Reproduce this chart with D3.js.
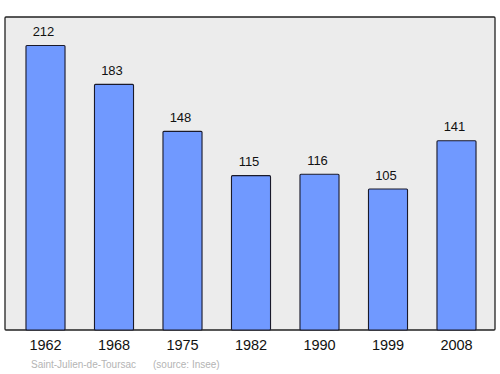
<!DOCTYPE html>
<html>
<head>
<meta charset="utf-8">
<script src="https://cdn.jsdelivr.net/npm/d3@7"></script>
<style>
  body { margin: 0; background: #fff; }
  text { font-family: "Liberation Sans", Arial, sans-serif; }
</style>
</head>
<body>
<div id="chart"></div>
<script>
// population data
var years = ["1962", "1968", "1975", "1982", "1990", "1999", "2008"];
var population = [212, 183, 148, 115, 116, 105, 141];
var townName = "Saint-Julien-de-Toursac";
var sourceNote = "(source: Insee)";

var width = 500, height = 374;
var frame = {left: 5, top: 17, right: 495, bottom: 330};

var svg = d3.select("#chart").append("svg")
	.attr("width", width)
	.attr("height", height);

// plot background
svg.append("rect")
	.attr("x", frame.left)
	.attr("y", frame.top)
	.attr("width", frame.right - frame.left)
	.attr("height", frame.bottom - frame.top)
	.attr("fill", "#ececec")
	.attr("stroke", "#222")
	.attr("stroke-width", 1.3)
	.attr("rx", 1);

var x = d3.scaleBand()
	.domain(years)
	.range([11.25, 490.75])
	.paddingInner(0.43)
	.paddingOuter(0.215);

var y = d3.scaleLinear()
	.domain([0, d3.max(population) * 1.1])
	.range([frame.bottom, frame.top]);

var data = years.map(function(d, i) { return {year: d, value: population[i]}; });

svg.append("g")
	.selectAll("rect")
	.data(data)
	.enter().append("rect")
	.attr("x", function(d) { return x(d.year); })
	.attr("y", function(d) { return y(d.value); })
	.attr("width", x.bandwidth())
	.attr("height", function(d) { return frame.bottom - y(d.value); })
	.attr("fill", "#7099ff")
	.attr("stroke", "#1a1a2a")
	.attr("stroke-width", 1.1)
	.attr("rx", 1);

// value labels, sitting a little left of the bar centre as in the original
svg.append("g")
	.selectAll("text")
	.data(data)
	.enter().append("text")
	.attr("x", function(d) { return x(d.year) + x.bandwidth() / 2 - 2; })
	.attr("y", function(d) { return y(d.value) - 9.5; })
	.attr("text-anchor", "middle")
	.style("font-size", "13px")
	.style("fill", "#111")
	.text(function(d) { return d.value; });

// year axis
var xAxis = svg.append("g")
	.attr("transform", "translate(0," + frame.bottom + ")")
	.call(d3.axisBottom(x).tickSize(0).tickPadding(10));
xAxis.select(".domain").remove();
xAxis.selectAll("text")
	.attr("dy", "0.71em")
	.style("font-size", "14.5px")
	.style("font-family", "'Liberation Sans', Arial, sans-serif")
	.style("fill", "#111");

// footer
svg.append("text")
	.attr("x", 31)
	.attr("y", 368)
	.style("font-size", "10px")
	.style("fill", "#b4b4b4")
	.text(townName);

svg.append("text")
	.attr("x", 153)
	.attr("y", 368)
	.style("font-size", "10px")
	.style("fill", "#b4b4b4")
	.text(sourceNote);
</script>
</body>
</html>
